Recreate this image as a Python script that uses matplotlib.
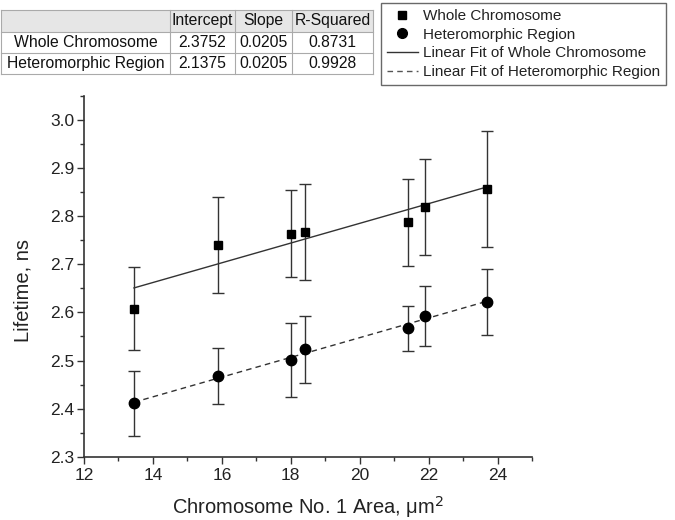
import matplotlib
matplotlib.use("Agg")
import matplotlib.pyplot as plt
from matplotlib.lines import Line2D
from matplotlib.patches import Rectangle
from matplotlib.ticker import MultipleLocator, FormatStrFormatter

plt.rcParams['font.family'] = ['Liberation Sans', 'DejaVu Sans']

# ---- data ----
area = [13.45, 15.9, 18.0, 18.4, 21.4, 21.9, 23.7]
whole_life = [2.608, 2.740, 2.764, 2.767, 2.787, 2.819, 2.857]
whole_err = [0.087, 0.100, 0.090, 0.100, 0.090, 0.100, 0.120]
hetero_life = [2.411, 2.468, 2.502, 2.523, 2.567, 2.592, 2.622]
hetero_err = [0.068, 0.058, 0.077, 0.069, 0.047, 0.062, 0.068]

table_cols = ["", "Intercept", "Slope", "R-Squared"]
table_rows = ["Whole Chromosome", "Heteromorphic Region"]
intercepts = [2.3752, 2.1375]
slopes = [0.0205, 0.0205]
r_squared = [0.8731, 0.9928]

W, H = 675, 520
fig = plt.figure(figsize=(W / 100, H / 100), dpi=100)
ax = fig.add_axes([84 / W, 1 - 456.7 / H, (532 - 84) / W, (456.7 - 96) / H])

ax.errorbar(area, whole_life, yerr=whole_err, fmt='s', color='black', ms=6,
            ecolor='#333333', elinewidth=1, capsize=4, capthick=1, zorder=3)
ax.errorbar(area, hetero_life, yerr=hetero_err, fmt='o', color='black', ms=7.5,
            ecolor='#333333', elinewidth=1, capsize=4, capthick=1, zorder=3)

xs = [min(area), max(area)]
ax.plot(xs, [intercepts[0] + slopes[0] * x for x in xs], color='#333333', lw=1, zorder=2)
ax.plot(xs, [intercepts[1] + slopes[1] * x for x in xs], color='#333333', lw=1,
        ls=(0, (4, 3)), zorder=2)

ax.set_xlim(12, 25)
ax.set_ylim(2.3, 3.05)
ax.set_xticks([12, 14, 16, 18, 20, 22, 24])
ax.xaxis.set_minor_locator(MultipleLocator(1))
ax.set_yticks([2.3, 2.4, 2.5, 2.6, 2.7, 2.8, 2.9, 3.0])
ax.yaxis.set_minor_locator(MultipleLocator(0.05))
ax.yaxis.set_major_formatter(FormatStrFormatter('%.1f'))
for s in ['top', 'right']:
    ax.spines[s].set_visible(False)
for s in ['left', 'bottom']:
    ax.spines[s].set_color('#333333')
    ax.spines[s].set_linewidth(1.2)
ax.tick_params(which='major', length=5, width=1, color='#333333', labelsize=12.5,
               labelcolor='#222222')
ax.tick_params(axis='x', which='major', pad=3)
ax.tick_params(axis='y', which='major', pad=2)
ax.tick_params(which='minor', length=3, width=1, color='#333333')
ax.set_xlabel("Chromosome No. 1 Area, \u03bcm$^2$", fontsize=14.5, labelpad=8,
              color='#222222')
ax.set_ylabel("Lifetime, ns", fontsize=14.5, color='#222222')
ax.yaxis.set_label_coords(-0.115, 0.46)

# ---- legend ----
handles = [
    Line2D([], [], marker='s', color='black', ls='none', ms=6),
    Line2D([], [], marker='o', color='black', ls='none', ms=7),
    Line2D([], [], color='#333333', lw=1),
    Line2D([], [], color='#555555', lw=1, ls=(0, (4, 3))),
]
labels = ["Whole Chromosome", "Heteromorphic Region",
          "Linear Fit of Whole Chromosome", "Linear Fit of Heteromorphic Region"]
leg = fig.legend(handles, labels, loc='upper left', bbox_to_anchor=(381 / W, 1 - 3 / H),
                 fontsize=11.0, frameon=True, fancybox=False, edgecolor='#444444',
                 handlelength=2.0, handletextpad=0.35, labelspacing=0.3,
                 borderpad=0.4, borderaxespad=0)
leg.get_frame().set_linewidth(1)
for t in leg.get_texts():
    t.set_color('#222222')

# ---- table ----
col_edges = [1, 170, 235, 292, 373]
row_edges = [10, 32, 53, 74]
def fx(px):
    return px / W
def fy(py):
    return 1 - py / H

fig.patches.append(Rectangle((fx(col_edges[0]), fy(row_edges[1])),
                             fx(col_edges[-1]) - fx(col_edges[0]),
                             fy(row_edges[0]) - fy(row_edges[1]),
                             transform=fig.transFigure, facecolor='#e6e6e6',
                             edgecolor='none', zorder=0))
for yy in row_edges:
    fig.add_artist(Line2D([fx(col_edges[0]), fx(col_edges[-1])], [fy(yy), fy(yy)],
                          transform=fig.transFigure, color='#aaaaaa', lw=0.8))
for xx in col_edges:
    fig.add_artist(Line2D([fx(xx), fx(xx)], [fy(row_edges[0]), fy(row_edges[-1])],
                          transform=fig.transFigure, color='#aaaaaa', lw=0.8))

cells = [table_cols]
for i, name in enumerate(table_rows):
    cells.append([name, f"{intercepts[i]:.4f}", f"{slopes[i]:.4f}", f"{r_squared[i]:.4f}"])
for r, row in enumerate(cells):
    yc = (row_edges[r] + row_edges[r + 1]) / 2
    for c, txt in enumerate(row):
        xc = (col_edges[c] + col_edges[c + 1]) / 2
        fig.text(fx(xc), fy(yc), txt, ha='center', va='center', fontsize=11.3,
                 color='#111111')

fig.savefig("out.png", dpi=100)
